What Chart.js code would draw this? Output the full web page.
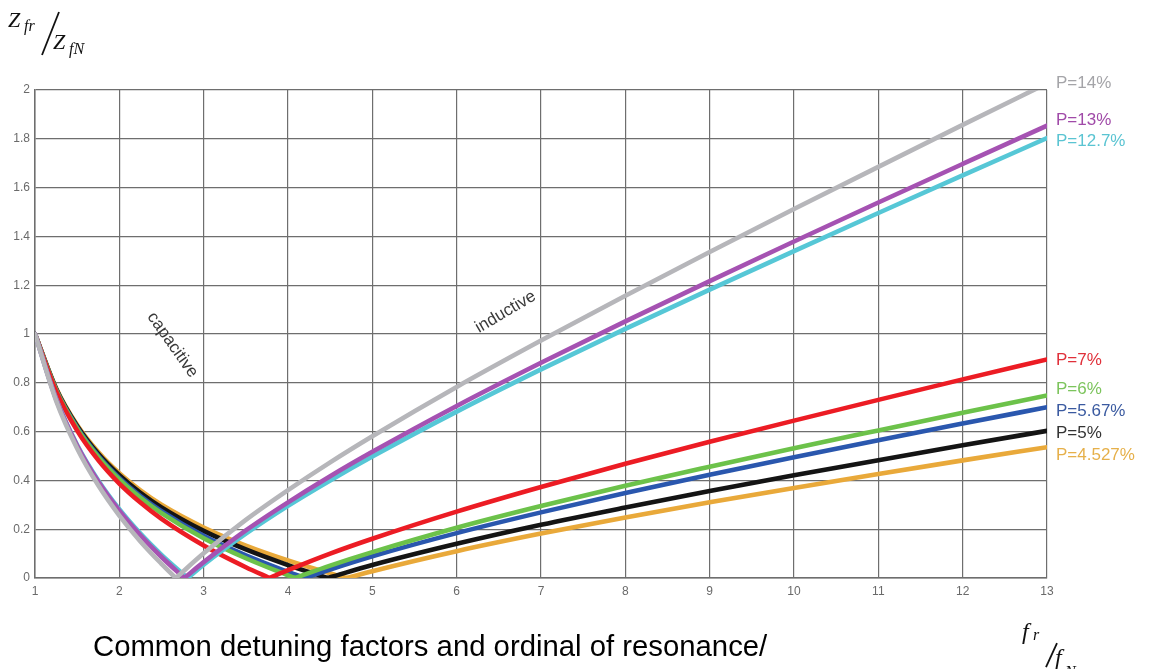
<!DOCTYPE html>
<html>
<head>
<meta charset="utf-8">
<script src="https://cdn.jsdelivr.net/npm/chart.js@4"></script>
<style>
    html, body { margin: 0; padding: 0; background: #fff; }
    #wrap { width: 1150px; height: 669px; position: relative; }
</style>
</head>
<body>
<div id="wrap"><canvas id="detuningChart"></canvas></div>
<script>
// harmonic order f_r / f_N where values were read
const orders = [1, 1.25, 1.5, 1.75, 2, 2.25, 2.5, 3, 3.5, 4, 4.5, 5, 6, 7, 8, 9, 10, 11, 12, 13];

// Z_fr / Z_fN per detuning factor
const p14   = [1, 0.727, 0.531, 0.380, 0.256, 0.150, 0.058, 0.101, 0.238, 0.360, 0.474, 0.581, 0.783, 0.973, 1.157, 1.336, 1.512, 1.685, 1.857, 2.027];
const p13   = [1, 0.733, 0.542, 0.395, 0.276, 0.175, 0.086, 0.065, 0.195, 0.310, 0.417, 0.517, 0.705, 0.882, 1.052, 1.217, 1.379, 1.539, 1.697, 1.854];
const p127  = [1, 0.735, 0.545, 0.400, 0.282, 0.182, 0.095, 0.055, 0.182, 0.296, 0.400, 0.498, 0.682, 0.855, 1.021, 1.182, 1.340, 1.496, 1.650, 1.803];
const p7    = [1, 0.766, 0.604, 0.483, 0.387, 0.309, 0.242, 0.133, 0.044, 0.032, 0.100, 0.161, 0.272, 0.373, 0.468, 0.558, 0.645, 0.730, 0.814, 0.896];
const p6    = [1, 0.771, 0.613, 0.496, 0.404, 0.329, 0.266, 0.163, 0.081, 0.011, 0.051, 0.106, 0.206, 0.295, 0.378, 0.456, 0.532, 0.605, 0.677, 0.748];
const p567  = [1, 0.773, 0.617, 0.501, 0.410, 0.336, 0.274, 0.173, 0.093, 0.025, 0.035, 0.089, 0.184, 0.269, 0.348, 0.423, 0.495, 0.565, 0.633, 0.700];
const p5    = [1, 0.776, 0.623, 0.509, 0.421, 0.349, 0.289, 0.193, 0.117, 0.053, 0.003, 0.053, 0.140, 0.218, 0.289, 0.357, 0.421, 0.483, 0.544, 0.603];
const p4527 = [1, 0.779, 0.627, 0.516, 0.429, 0.359, 0.300, 0.207, 0.133, 0.072, 0.019, 0.028, 0.110, 0.182, 0.248, 0.310, 0.369, 0.426, 0.482, 0.536];

const seriesNames = ['P=14%', 'P=13%', 'P=12.7%', 'P=7%', 'P=6%', 'P=5.67%', 'P=5%', 'P=4.527%'];
const seriesValues = [p14, p13, p127, p7, p6, p567, p5, p4527];
// order where each curve touches zero (resonance)
const resonance = [2.67, 2.77, 2.81, 3.78, 4.08, 4.2, 4.47, 4.7];

const lineColors  = ['#b6b6ba', '#a552b2', '#56c7d6', '#ec1c24', '#6cc24a', '#2a57ae', '#141414', '#e9a93a'];
const labelColors = ['#a4a4a8', '#a04aa8', '#5ac4d2', '#e0303a', '#7cc45c', '#3a5aa0', '#333333', '#e6b04a'];
// where the end labels sit, in y units
const labelAt = [2.029, 1.877, 1.791, 0.893, 0.775, 0.684, 0.594, 0.504];

// split each curve at resonance so the dip stays sharp and both branches stay smooth
const branch = (values, res, side) => {
    const pts = orders
        .map((x, i) => ({ x, y: values[i] }))
        .filter((p) => (side === 'left' ? p.x < res : p.x > res));
    pts.push({ x: res, y: 0 });
    return pts.sort((a, b) => a.x - b.x);
};

const datasets = [];
seriesNames.forEach((name, i) => {
    ['left', 'right'].forEach((side) => {
        datasets.push({
            label: name,
            data: branch(seriesValues[i], resonance[i], side),
            borderColor: lineColors[i],
            borderWidth: 4.6,
            borderCapStyle: 'round',
            pointRadius: 0,
            cubicInterpolationMode: 'monotone',
            fill: false
        });
    });
});

const annotations = {
    id: 'annotations',
    afterDraw(chart) {
        const { ctx, scales } = chart;
        const xs = scales.x, ys = scales.y;
        ctx.save();

        // series labels at the right end
        ctx.font = '17px "Liberation Sans", Arial, sans-serif';
        ctx.textBaseline = 'middle';
        ctx.textAlign = 'left';
        seriesNames.forEach((name, i) => {
            ctx.fillStyle = labelColors[i];
            ctx.fillText(name, xs.right + 9, ys.getPixelForValue(labelAt[i]));
        });

        // region notes
        ctx.fillStyle = '#3a3a3a';
        ctx.font = '17px "Liberation Sans", Arial, sans-serif';
        ctx.textAlign = 'center';
        ctx.save();
        ctx.translate(xs.getPixelForValue(2.63), ys.getPixelForValue(0.955));
        ctx.rotate(54.7 * Math.PI / 180);
        ctx.fillText('capacitive', 0, 0);
        ctx.restore();
        ctx.save();
        ctx.translate(xs.getPixelForValue(6.58), ys.getPixelForValue(1.09));
        ctx.rotate(-30.5 * Math.PI / 180);
        ctx.fillText('inductive', 0, 0);
        ctx.restore();

        // axis titles
        ctx.fillStyle = '#111';
        ctx.textAlign = 'left';
        ctx.textBaseline = 'alphabetic';
        const big = 'italic 22px "Liberation Serif", "DejaVu Serif", serif';
        const small = 'italic 16px "Liberation Serif", "DejaVu Serif", serif';
        ctx.font = big;
        ctx.fillText('Z', 8, 27);
        ctx.font = small;
        ctx.fillText('fr', 24, 31);
        ctx.font = big;
        ctx.fillText('Z', 53, 49);
        ctx.font = small;
        ctx.fillText('fN', 69, 54);
        ctx.strokeStyle = '#111';
        ctx.lineWidth = 1.8;
        ctx.beginPath();
        ctx.moveTo(42, 55);
        ctx.lineTo(59, 12);
        ctx.stroke();

        const bigF = 'italic 24px "Liberation Serif", "DejaVu Serif", serif';
        const smallF = 'italic 16px "Liberation Serif", "DejaVu Serif", serif';
        ctx.font = bigF;
        ctx.fillText('f', 1022, 639);
        ctx.font = smallF;
        ctx.fillText('r', 1033, 640);
        ctx.font = bigF;
        ctx.fillText('f', 1055, 665);
        ctx.font = smallF;
        ctx.fillText('N', 1065, 677);
        ctx.beginPath();
        ctx.moveTo(1046, 667);
        ctx.lineTo(1057, 643);
        ctx.stroke();

        // caption
        const caption = 'Common detuning factors and ordinal of resonance/';
        ctx.font = '24px "Liberation Sans", Arial, sans-serif';
        const size = 24 * 675 / ctx.measureText(caption).width;
        ctx.font = size.toFixed(1) + 'px "Liberation Sans", Arial, sans-serif';
        ctx.fillStyle = '#000';
        ctx.fillText(caption, 93, 656);

        ctx.restore();
    }
};

const gridColor = '#6e6e6e';
const tickFont = { family: '"Liberation Sans", Arial, sans-serif', size: 12 };

new Chart(document.getElementById('detuningChart'), {
    type: 'line',
    data: { datasets },
    options: {
        responsive: true,
        maintainAspectRatio: false,
        animation: false,
        layout: { padding: { left: 0, right: 103, top: 90, bottom: 61 } },
        plugins: {
            legend: { display: false },
            tooltip: { enabled: false }
        },
        scales: {
            x: {
                type: 'linear',
                min: 1,
                max: 13,
                ticks: { stepSize: 1, color: '#6a6a6a', font: tickFont, padding: 6 },
                grid: { color: gridColor, lineWidth: 1.2, drawTicks: false },
                border: { color: gridColor, width: 1.5 },
                afterFit: (s) => { s.height = 30; }
            },
            y: {
                min: 0,
                max: 2,
                ticks: {
                    stepSize: 0.2,
                    color: '#6a6a6a',
                    font: tickFont,
                    padding: 5,
                    callback: (value) => String(Math.round(value * 10) / 10)
                },
                grid: { color: gridColor, lineWidth: 1.2, drawTicks: false },
                border: { color: gridColor, width: 1.5 },
                afterFit: (s) => { s.width = 35; }
            }
        }
    },
    plugins: [annotations]
});
</script>
</body>
</html>
